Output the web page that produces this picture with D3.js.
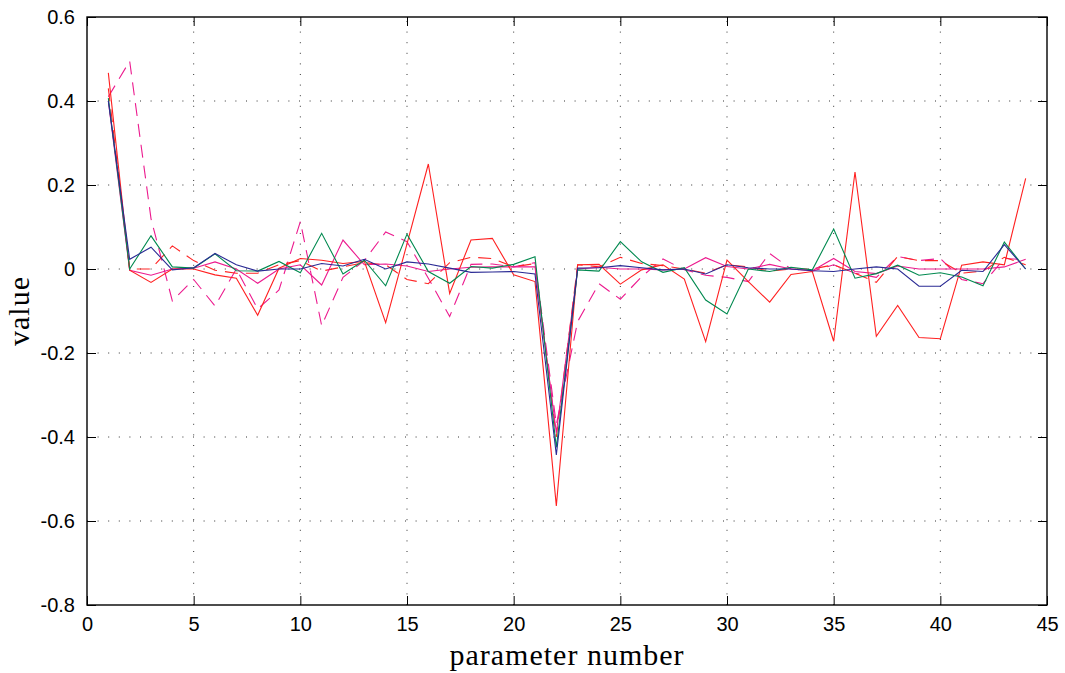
<!DOCTYPE html>
<html><head><meta charset="utf-8">
<script src="https://cdn.jsdelivr.net/npm/d3@7"></script>
<style>body{margin:0;background:#fff}svg{display:block}</style>
</head><body>
<script>
const params = d3.range(1, 45);
const blueSolid = [0.40,0.023,0.052,-0.002,0.003,0.037,0.01,-0.005,0.0,0.0,0.013,0.007,0.023,0.0,0.017,0.012,0.002,-0.008,-0.007,-0.006,-0.012,-0.443,0.002,0.003,0.008,0.003,-0.002,0.0,-0.012,0.01,0.003,0.0,0.0,-0.004,-0.006,0.0,0.005,0.0,-0.041,-0.041,-0.003,-0.006,0.058,0.0];
const greenSolid = [0.407,0.0,0.079,0.005,0.002,0.036,-0.004,-0.005,0.018,-0.009,0.085,-0.012,0.021,-0.04,0.083,-0.006,-0.034,0.006,0.002,0.011,0.029,-0.425,-0.002,-0.005,0.065,0.017,-0.008,0.003,-0.074,-0.107,0.0,-0.006,0.004,-0.002,0.095,-0.022,-0.011,0.009,-0.015,-0.009,-0.019,-0.04,0.064,0.0];
const redSolid = [0.467,-0.003,-0.032,0.0,0.0,-0.014,-0.022,-0.11,0.002,0.025,0.021,0.013,0.018,-0.128,0.06,0.25,-0.058,0.069,0.073,-0.014,-0.03,-0.564,0.01,0.011,-0.036,-0.002,0.01,-0.024,-0.173,0.021,-0.03,-0.079,-0.013,-0.006,-0.172,0.231,-0.16,-0.087,-0.163,-0.166,0.009,0.017,0.01,0.216];
const magentaSolid = [0.40,-0.003,-0.015,0.0,0.002,0.017,0.0,-0.034,0.0,0.01,-0.038,0.069,0.01,0.012,0.007,-0.006,0.0,0.004,0.005,0.005,0.005,-0.39,0.0,0.004,0.0,0.0,-0.002,0.0,0.027,0.006,0.0,0.011,0.0,-0.004,0.025,-0.006,-0.011,0.007,0.0,0.0,0.0,0.0,0.005,0.023];
const redDashed = [0.43,0.0,0.0,0.055,0.02,-0.003,-0.01,-0.01,0.01,0.02,-0.005,0.005,0.015,0.01,-0.025,-0.035,0.015,0.028,0.025,0.005,0.013,-0.40,0.01,0.005,0.028,0.013,0.008,0.0,-0.01,0.01,0.005,-0.005,0.0,0.0,0.01,-0.01,-0.032,0.03,0.02,0.02,-0.01,-0.005,0.028,0.01];
const magentaDashed = [0.41,0.495,0.12,-0.076,-0.025,-0.088,0.0,-0.095,-0.05,0.113,-0.135,-0.02,0.02,0.088,0.065,-0.022,-0.113,0.011,0.012,0.005,0.015,-0.37,-0.125,-0.035,-0.072,-0.018,0.024,-0.002,-0.015,-0.02,-0.03,0.037,0.0,-0.005,0.01,-0.01,-0.02,0.03,0.02,0.025,-0.025,-0.035,0.025,0.022];
const xTicks = [0,5,10,15,20,25,30,35,40,45];
const yTicks = [-0.8,-0.6,-0.4,-0.2,0,0.2,0.4,0.6];
const yTickLabels = ["-0.8","-0.6","-0.4","-0.2","0","0.2","0.4","0.6"];

const W = 1065, H = 673;
const m = {left: 87, top: 17, right: 18, bottom: 68};
const iw = W - m.left - m.right, ih = H - m.top - m.bottom;
const svg = d3.select("body").append("svg").attr("width", W).attr("height", H);
const g = svg.append("g").attr("transform", `translate(${m.left},${m.top})`);
const x = d3.scaleLinear().domain([0, 45]).range([0, iw]);
const y = d3.scaleLinear().domain([-0.8, 0.6]).range([ih, 0]);

// grid
const grid = g.append("g").attr("stroke", "#333").attr("stroke-width", 1).attr("stroke-dasharray", "1,9.6");
xTicks.slice(1, -1).forEach(t => grid.append("line").attr("x1", x(t)).attr("x2", x(t)).attr("y1", ih).attr("y2", 0));
yTicks.slice(1, -1).forEach(t => grid.append("line").attr("x1", 0).attr("x2", iw).attr("y1", y(t)).attr("y2", y(t)));

const series = [
  {v: magentaDashed, c: "#ec1a8e", d: "13,8"},
  {v: redDashed, c: "#ff2424", d: "13,8"},
  {v: magentaSolid, c: "#ec1a8e", d: null},
  {v: redSolid, c: "#ff2020", d: null},
  {v: greenSolid, c: "#00894f", d: null},
  {v: blueSolid, c: "#2a2a94", d: null}
];
const line = d3.line().x((d, i) => x(params[i])).y(d => y(d));
series.forEach(s => {
  g.append("path").datum(s.v).attr("d", line).attr("fill", "none")
    .attr("stroke", s.c).attr("stroke-width", 1.1)
    .attr("stroke-dasharray", s.d);
});

// axes with inward ticks
const tl = 9;
const xb = g.append("g").attr("transform", `translate(0,${ih})`)
  .call(d3.axisBottom(x).tickValues(xTicks).tickSizeInner(-tl).tickSizeOuter(0).tickPadding(12).tickFormat(d3.format("d")));
const xt = g.append("g").call(d3.axisTop(x).tickValues(xTicks).tickSizeInner(-tl).tickSizeOuter(0).tickFormat(""));
const yl = g.append("g").call(d3.axisLeft(y).tickValues(yTicks).tickSizeInner(-tl).tickSizeOuter(0).tickPadding(12).tickFormat((d, i) => yTickLabels[i]));
const yr = g.append("g").attr("transform", `translate(${iw},0)`).call(d3.axisRight(y).tickValues(yTicks).tickSizeInner(-tl).tickSizeOuter(0).tickFormat(""));
[xb, xt, yl, yr].forEach(a => {
  a.select(".domain").remove();
  a.selectAll(".tick line").attr("stroke", "#000").attr("stroke-width", 1);
  a.selectAll("text").attr("font-family", "Liberation Sans, Arial, sans-serif").attr("font-size", 20).attr("fill", "#000");
});
g.append("rect").attr("width", iw).attr("height", ih).attr("fill", "none").attr("stroke", "#000").attr("stroke-width", 1.4);

svg.append("text").attr("x", m.left + iw / 2).attr("y", 665).attr("text-anchor", "middle")
  .attr("font-family", "Liberation Serif, DejaVu Serif, serif").attr("font-size", 30).attr("letter-spacing", 1).text("parameter number");
svg.append("text").attr("transform", `translate(29,${m.top + ih / 2}) rotate(-90)`).attr("text-anchor", "middle")
  .attr("font-family", "Liberation Serif, DejaVu Serif, serif").attr("font-size", 30).attr("letter-spacing", 1).text("value");
</script>
</body></html>
